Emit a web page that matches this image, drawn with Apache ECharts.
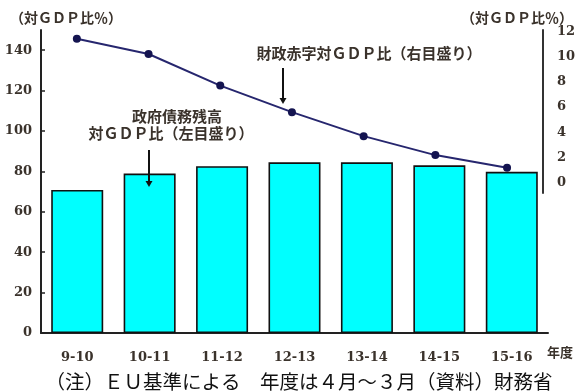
<!DOCTYPE html>
<html>
<head>
<meta charset="utf-8">
<script src="https://cdn.jsdelivr.net/npm/echarts@6/dist/echarts.min.js"></script>
<style>
  html, body { margin: 0; padding: 0; background: #ffffff; }
  #chart { width: 578px; height: 392px; }
</style>
</head>
<body>
<div id="chart"></div>
<script>
// Fiscal years (April - March)
const fiscalYears = ['9-10', '10-11', '11-12', '12-13', '13-14', '14-15', '15-16'];
// General government debt, % of GDP (left scale)
const debtRatio = [70.8, 78.9, 82.6, 84.5, 84.5, 83.0, 79.8];
// Fiscal deficit, % of GDP (right scale)
const deficitRatio = [11.4, 10.2, 7.7, 5.6, 3.7, 2.2, 1.2];
// Tick labels
const leftTicks = [0, 20, 40, 60, 80, 100, 120, 140];
const rightTicks = [0, 2, 4, 6, 8, 10, 12];

const ink = '#3a322b';
const serif = '"DejaVu Serif", "Noto Sans CJK JP", serif';
const gothic = '"Noto Sans CJK JP", sans-serif';

const chart = echarts.init(document.getElementById('chart'), null, { renderer: 'canvas' });

const axisLabelStyle = { color: ink, fontFamily: serif, fontSize: 13, fontWeight: 'bold' };

// Callout arrow: vertical shaft with a filled head at the bottom
function arrow(x, y1, y2) {
  return [
    { type: 'line', z: 100, shape: { x1: x, y1: y1, x2: x, y2: y2 - 4 },
      style: { stroke: '#111', lineWidth: 2 } },
    { type: 'polygon', z: 100, shape: { points: [[x - 3.5, y2 - 6], [x + 3.5, y2 - 6], [x, y2]] },
      style: { fill: '#111' } }
  ];
}

chart.setOption({
  animation: false,
  backgroundColor: '#ffffff',
  grid: [
    { left: 41, right: 30, top: 30, bottom: 59 },
    { left: 41, right: 30, top: 30, height: 163 }
  ],
  xAxis: [
    {
      type: 'category', gridIndex: 0, data: fiscalYears, boundaryGap: true,
      axisLine: { lineStyle: { color: '#222', width: 2 } },
      axisTick: { inside: true, length: 4, interval: 0, lineStyle: { color: '#222', width: 1.5 } },
      axisLabel: Object.assign({ margin: 18, interval: 0 }, axisLabelStyle),
      splitLine: { show: false }
    },
    {
      type: 'category', gridIndex: 1, data: fiscalYears, boundaryGap: true, show: false
    }
  ],
  yAxis: [
    {
      type: 'value', gridIndex: 0, position: 'left', min: 0, max: 150,
      axisLine: { show: true, lineStyle: { color: '#222', width: 2 } },
      axisTick: { show: true, inside: true, length: 4, customValues: leftTicks,
                  lineStyle: { color: '#222', width: 1.5 } },
      axisLabel: Object.assign({ margin: 9, customValues: leftTicks }, axisLabelStyle),
      splitLine: { show: false }
    },
    {
      type: 'value', gridIndex: 1, position: 'right', min: -0.8, max: 12.1,
      axisLine: { show: true, lineStyle: { color: '#333', width: 2 } },
      axisTick: { show: false },
      axisLabel: Object.assign({ margin: 14, customValues: rightTicks }, axisLabelStyle),
      splitLine: { show: false }
    }
  ],
  series: [
    {
      name: '政府債務残高対ＧＤＰ比', type: 'bar', xAxisIndex: 0, yAxisIndex: 0,
      data: debtRatio, barWidth: 52,
      itemStyle: { color: '#00ffff', borderColor: '#111', borderWidth: 1.6 }
    },
    {
      name: '財政赤字対ＧＤＰ比', type: 'line', xAxisIndex: 1, yAxisIndex: 1,
      data: deficitRatio, symbol: 'circle', symbolSize: 8,
      lineStyle: { color: '#26266e', width: 2 },
      itemStyle: { color: '#141450' }
    }
  ],
  graphic: [
    { type: 'text', left: 10, top: 12, z: 100,
      style: { text: '（対ＧＤＰ比％）', fill: ink, font: 'bold 14px ' + serif } },
    { type: 'text', right: 5, top: 12, z: 100,
      style: { text: '（対ＧＤＰ比％）', fill: ink, font: 'bold 14px ' + serif } },
    { type: 'text', x: 369, y: 55, z: 100,
      style: { text: '財政赤字対ＧＤＰ比（右目盛り）', fill: ink, font: 'bold 15px ' + serif,
               align: 'center', verticalAlign: 'middle' } },
    { type: 'text', x: 177, y: 118, z: 100,
      style: { text: '政府債務残高', fill: ink, font: 'bold 15px ' + serif,
               align: 'center', verticalAlign: 'middle' } },
    { type: 'text', x: 171, y: 135, z: 100,
      style: { text: '対ＧＤＰ比（左目盛り）', fill: ink, font: 'bold 15px ' + serif,
               align: 'center', verticalAlign: 'middle' } },
    { type: 'text', x: 560, y: 354, z: 100,
      style: { text: '年度', fill: ink, font: 'bold 13px ' + serif,
               align: 'center', verticalAlign: 'middle' } },
    { type: 'text', x: 299, y: 382, z: 100,
      style: { text: '（注）ＥＵ基準による　年度は４月～３月（資料）財務省', fill: '#111',
               font: '19.5px ' + gothic, align: 'center', verticalAlign: 'middle' } }
  ].concat(arrow(283, 68, 104), arrow(149, 150, 187))
});
</script>
</body>
</html>
